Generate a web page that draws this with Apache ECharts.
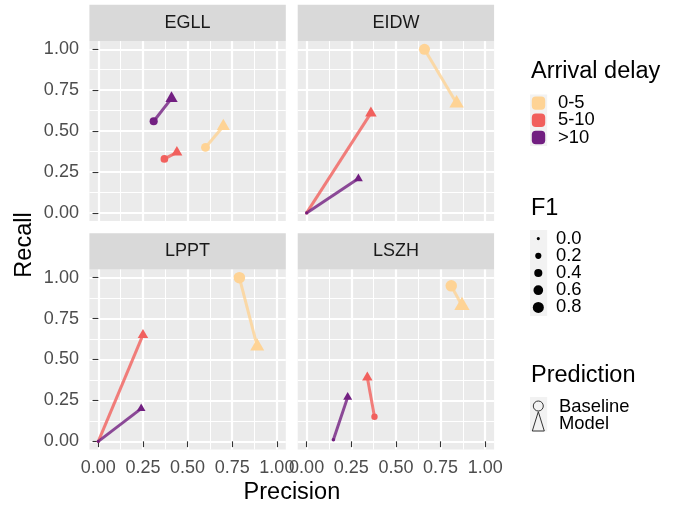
<!DOCTYPE html>
<html lang="en">
  <head>
    <meta charset="UTF-8" />
    <title>Precision / Recall by airport</title>
    <script src="https://cdn.jsdelivr.net/npm/echarts@6.0.0/dist/echarts.min.js"></script>
    <style>
      html, body { margin: 0; padding: 0; background: #fff; }
    </style>
  </head>
  <body>
    <div id="main" style="width: 678px; height: 508px"></div>
    <script>
      // facets and groups
      var airports = ['EGLL', 'EIDW', 'LPPT', 'LSZH']
      var delays = ['0-5', '5-10', '>10']
      var delayColors = ['#FED395', '#F1605D', '#721F81']

      // rows = airport, columns = delay group
      var basePrecision = [[0.60, 0.37, 0.31], [0.66, 0.00, 0.00], [0.79, 0.00, 0.00], [0.81, 0.38, 0.15]]
      var baseRecall = [[0.40, 0.33, 0.56], [1.00, 0.00, 0.00], [1.00, 0.00, 0.00], [0.95, 0.15, 0.01]]
      var baseF1 = [[0.48, 0.35, 0.40], [0.80, 0.00, 0.00], [0.88, 0.00, 0.00], [0.87, 0.22, 0.02]]
      var modelPrecision = [[0.70, 0.44, 0.41], [0.84, 0.36, 0.29], [0.89, 0.25, 0.24], [0.87, 0.34, 0.23]]
      var modelRecall = [[0.53, 0.37, 0.70], [0.67, 0.61, 0.21], [0.58, 0.65, 0.20], [0.83, 0.39, 0.27]]
      var modelF1 = [[0.60, 0.40, 0.52], [0.75, 0.45, 0.24], [0.70, 0.36, 0.22], [0.85, 0.36, 0.25]]

      // axis ticks and legend entries
      var tickValues = [0, 0.25, 0.5, 0.75, 1]
      var minorValues = [0.125, 0.375, 0.625, 0.875]
      var f1Breaks = [0.0, 0.2, 0.4, 0.6, 0.8]
      var predictionLabels = ['Baseline', 'Model']

      var FONT = '"Liberation Sans", Arial, sans-serif'
      var panels = [
        { left: 89.4, top: 41.1 },
        { left: 297.7, top: 41.1 },
        { left: 89.4, top: 269.5 },
        { left: 297.7, top: 269.5 }
      ]
      var panelW = 196.4
      var panelH = 180
      var stripH = 36.3

      // ggplot-like size scale (area ~ F1)
      function dotSize(f1) {
        return Math.sqrt(10 + 140 * f1)
      }

      var mCharts = echarts.init(document.getElementById('main'))

      var grids = []
      var xAxes = []
      var yAxes = []
      var series = []
      var graphics = []

      panels.forEach(function (p, a) {
        var bottomRow = a >= 2
        var leftCol = a % 2 === 0
        grids.push({
          left: p.left,
          top: p.top,
          width: panelW,
          height: panelH,
          show: true,
          backgroundColor: '#EBEBEB',
          borderWidth: 0
        })
        // major axes (ticks, labels, major grid)
        xAxes.push({
          type: 'value', gridIndex: a, min: -0.05, max: 1.05,
          axisLine: { show: false },
          axisTick: { show: bottomRow, length: 5.8, customValues: tickValues, lineStyle: { color: '#333333', width: 1.1 } },
          axisLabel: {
            show: bottomRow, customValues: tickValues, margin: 10,
            color: '#4D4D4D', fontSize: 18, fontFamily: FONT,
            formatter: function (v) { return v.toFixed(2) }
          },
          splitLine: { show: true, lineStyle: { color: '#FFFFFF', width: 2.2 } }
        })
        // minor axes (minor grid only)
        xAxes.push({
          type: 'value', gridIndex: a, min: -0.05, max: 1.05,
          axisLine: { show: false },
          axisTick: { show: false, customValues: minorValues },
          axisLabel: { show: false, customValues: minorValues },
          splitLine: { show: true, lineStyle: { color: '#FFFFFF', width: 1.1 } }
        })
        yAxes.push({
          type: 'value', gridIndex: a, min: -0.05, max: 1.05,
          axisLine: { show: false },
          axisTick: { show: leftCol, length: 5.8, customValues: tickValues, lineStyle: { color: '#333333', width: 1.1 } },
          axisLabel: {
            show: leftCol, customValues: tickValues, margin: 10.5,
            color: '#4D4D4D', fontSize: 18, fontFamily: FONT,
            formatter: function (v) { return v.toFixed(2) }
          },
          splitLine: { show: true, lineStyle: { color: '#FFFFFF', width: 2.2 } }
        })
        yAxes.push({
          type: 'value', gridIndex: a, min: -0.05, max: 1.05,
          axisLine: { show: false },
          axisTick: { show: false, customValues: minorValues },
          axisLabel: { show: false, customValues: minorValues },
          splitLine: { show: true, lineStyle: { color: '#FFFFFF', width: 1.1 } }
        })

        // strip
        graphics.push({
          type: 'rect', silent: true,
          shape: { x: p.left, y: p.top - stripH, width: panelW, height: stripH },
          style: { fill: '#D9D9D9' }
        })
        graphics.push({
          type: 'text', silent: true,
          x: p.left + panelW / 2, y: p.top - stripH / 2,
          style: { text: airports[a], fill: '#1A1A1A', fontSize: 18, fontFamily: FONT, align: 'center', verticalAlign: 'middle' }
        })

        delays.forEach(function (d, k) {
          var bx = basePrecision[a][k], by = baseRecall[a][k]
          var mx = modelPrecision[a][k], my = modelRecall[a][k]
          series.push({
            type: 'line', name: d, xAxisIndex: 2 * a, yAxisIndex: 2 * a,
            data: [[bx, by], [mx, my]],
            symbol: 'none', z: 2, silent: true,
            lineStyle: { color: delayColors[k], width: 3, opacity: 0.8 }
          })
          var ds = dotSize(baseF1[a][k])
          series.push({
            type: 'scatter', name: d, xAxisIndex: 2 * a, yAxisIndex: 2 * a,
            data: [[bx, by]], symbol: 'circle', symbolSize: ds, z: 3,
            itemStyle: { color: delayColors[k], opacity: 1 }
          })
          var dm = dotSize(modelF1[a][k])
          var tw = dm * 1.35, th = dm * 1.17
          series.push({
            type: 'scatter', name: d, xAxisIndex: 2 * a, yAxisIndex: 2 * a,
            data: [{ value: [mx, my], symbolSize: [tw, th], symbolOffset: [0, -th / 6] }],
            symbol: 'triangle', z: 4,
            itemStyle: { color: delayColors[k], opacity: 1 }
          })
        })
      })

      // axis titles
      graphics.push({
        type: 'text', silent: true, x: 291.9, y: 492.7,
        style: { text: 'Precision', fill: '#000', fontSize: 23.5, fontFamily: FONT, align: 'center', verticalAlign: 'middle' }
      })
      graphics.push({
        type: 'text', silent: true, x: 24.5, y: 245, rotation: Math.PI / 2,
        style: { text: 'Recall', fill: '#000', fontSize: 23.5, fontFamily: FONT, align: 'center', verticalAlign: 'middle' }
      })

      // legend: Arrival delay
      var LX = 530, KEY = 17.2
      function legendTitle(txt, y) {
        graphics.push({
          type: 'text', silent: true, x: LX + 1, y: y,
          style: { text: txt, fill: '#000', fontSize: 23.5, fontFamily: FONT, align: 'left', verticalAlign: 'middle' }
        })
      }
      function legendLabel(txt, y, x) {
        graphics.push({
          type: 'text', silent: true, x: x, y: y,
          style: { text: txt, fill: '#000', fontSize: 18.4, fontFamily: FONT, align: 'left', verticalAlign: 'middle' }
        })
      }
      legendTitle('Arrival delay', 71.5)
      var top1 = 94.5
      graphics.push({ type: 'rect', silent: true, shape: { x: LX, y: top1, width: KEY, height: KEY * delays.length }, style: { fill: '#F2F2F2' } })
      delays.forEach(function (d, k) {
        var cy = top1 + KEY * k + KEY / 2
        graphics.push({
          type: 'rect', silent: true,
          shape: { x: LX + 1.8, y: cy - 6.7, width: 13.4, height: 13.4, r: 4 },
          style: { fill: delayColors[k] }
        })
        legendLabel(d, cy, 558)
      })

      // legend: F1
      legendTitle('F1', 208.5)
      var top2 = 230
      graphics.push({ type: 'rect', silent: true, shape: { x: LX, y: top2, width: KEY, height: KEY * f1Breaks.length }, style: { fill: '#F2F2F2' } })
      f1Breaks.forEach(function (v, i) {
        var cy = top2 + KEY * i + KEY / 2
        graphics.push({
          type: 'circle', silent: true,
          shape: { cx: LX + 8.3, cy: cy, r: dotSize(v) / 2 },
          style: { fill: '#000' }
        })
        legendLabel(v.toFixed(1), cy, 556)
      })

      // legend: Prediction
      legendTitle('Prediction', 375.5)
      var top3 = 397
      graphics.push({ type: 'rect', silent: true, shape: { x: LX, y: top3, width: KEY, height: KEY * 2 }, style: { fill: '#F2F2F2' } })
      graphics.push({
        type: 'circle', silent: true,
        shape: { cx: LX + 8.3, cy: 406, r: 5 },
        style: { fill: 'none', stroke: '#333', lineWidth: 1 }
      })
      graphics.push({
        type: 'polygon', silent: true,
        shape: { points: [[LX + 8.3, 411.7], [LX + 2.3, 431], [LX + 14.3, 431]] },
        style: { fill: 'none', stroke: '#333', lineWidth: 1 }
      })
      predictionLabels.forEach(function (t, i) {
        legendLabel(t, 406.5 + 17.5 * i, 559)
      })

      var option = {
        animation: false,
        backgroundColor: '#FFFFFF',
        grid: grids,
        xAxis: xAxes,
        yAxis: yAxes,
        series: series,
        graphic: graphics
      }
      mCharts.setOption(option)
    </script>
  </body>
</html>
